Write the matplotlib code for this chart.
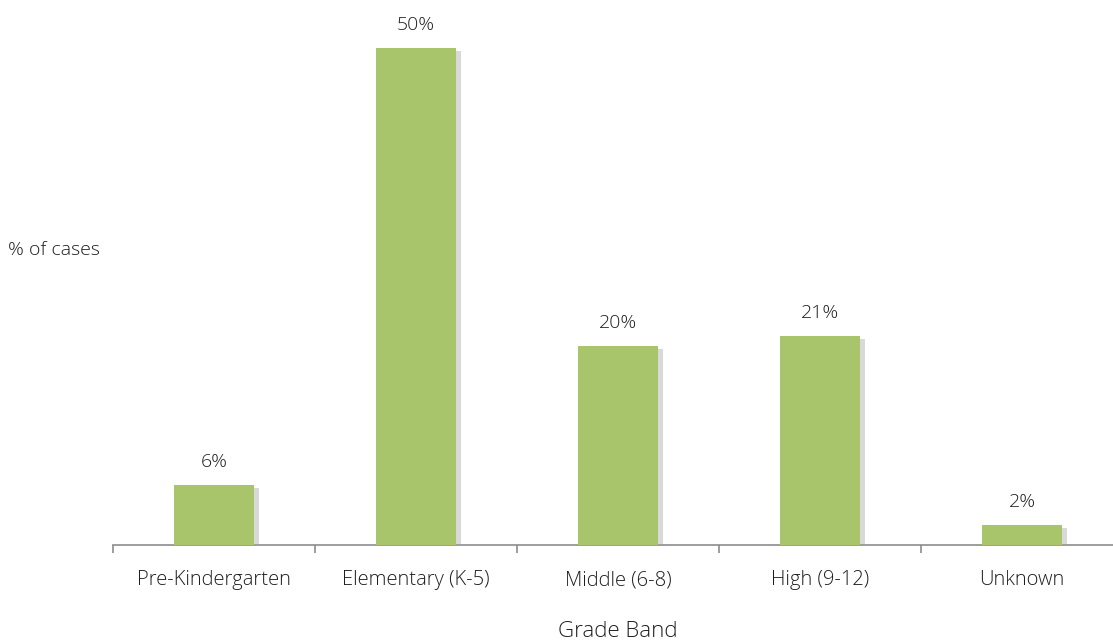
import matplotlib
matplotlib.use("Agg")
import matplotlib.pyplot as plt
import matplotlib.patheffects as pe

categories = ["Pre-Kindergarten", "Elementary (K-5)", "Middle (6-8)", "High (9-12)", "Unknown"]
values = [6, 50, 20, 21, 2]
labels = ["6%", "50%", "20%", "21%", "2%"]

plt.rcParams['font.family'] = ['Open Sans', 'DejaVu Sans']
plt.rcParams['font.weight'] = 'light'


def main():
    fig = plt.figure(figsize=(11.13, 6.42), dpi=100)
    ax = fig.add_axes([113 / 1113, 97 / 642, 1010 / 1113, 497 / 642])

    x = list(range(len(categories)))
    shadow = [pe.SimplePatchShadow(offset=(3, -2), shadow_rgbFace='#a0a0a0', alpha=0.4),
              pe.Normal()]
    bars = ax.bar(x, values, width=0.4, color='#a9c56b', zorder=3)
    for b in bars:
        b.set_path_effects(shadow)

    for xi, v, lab in zip(x, values, labels):
        ax.annotate(lab, (xi, v), xytext=(0, 10), textcoords='offset points',
                    ha='center', va='bottom', fontsize=14, color='#1e1e1e')

    ax.set_xlim(-0.5, len(categories) - 0.5)
    ax.set_ylim(0, 50)
    for side in ['top', 'right', 'left']:
        ax.spines[side].set_visible(False)
    ax.spines['bottom'].set_color('#8c8c8c')
    ax.spines['bottom'].set_linewidth(1.2)
    ax.set_yticks([])

    # category labels centred under bars, tick marks on slot boundaries
    ax.set_xticks(x)
    ax.set_xticklabels(categories, fontsize=14.5, color='#1e1e1e')
    ax.tick_params(axis='x', which='major', length=0, pad=18)
    ax.set_xticks([i - 0.5 for i in range(len(categories) + 1)], minor=True)
    ax.tick_params(axis='x', which='minor', length=6, color='#8c8c8c', width=1.2)

    ax.set_xlabel("Grade Band", fontsize=16, fontweight='light', color='#1e1e1e', labelpad=22)
    fig.text(8 / 1113, 1 - 250 / 642, "% of cases", fontsize=14, color='#1e1e1e',
             ha='left', va='center')

    fig.savefig("out.png", dpi=100)
    plt.close(fig)


if __name__ == "__main__":
    main()
